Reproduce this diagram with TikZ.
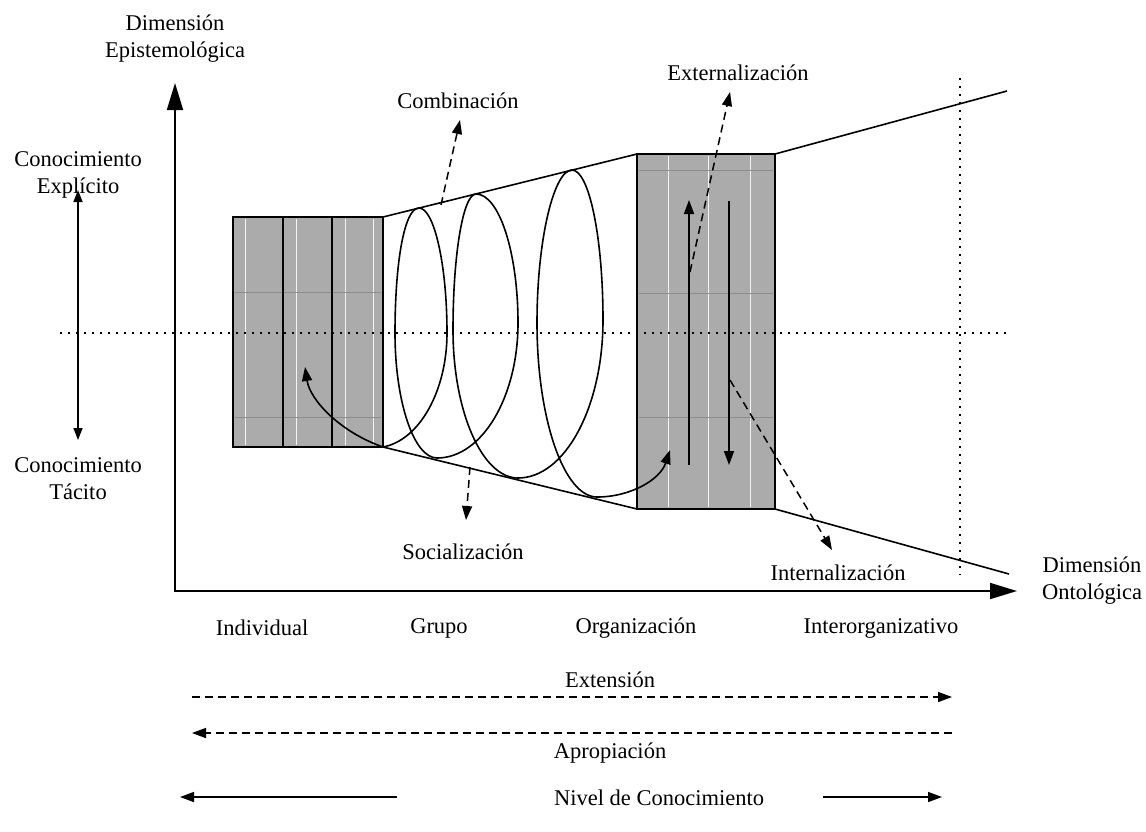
\documentclass[tikz,border=0pt]{standalone}
\usepackage{fontspec}
\setmainfont{Liberation Serif}
\usetikzlibrary{arrows.meta}
\begin{document}
\begin{tikzpicture}[x=1pt,y=-1pt,
  lbl/.style={font=\fontsize{22.5}{27}\selectfont, align=center, inner sep=0pt},
  bigtips/.style={line width=1.9pt, {Triangle[length=27pt,width=16pt]}-{Triangle[length=27pt,width=16pt]}},
  conn/.style={line width=1.6pt},
  tipS/.style={-{Triangle[length=14pt,width=10pt]}},
  dashln/.style={dash pattern=on 8pt off 5pt, line width=1.5pt},
  dotln/.style={dash pattern=on 2.2pt off 5.8pt, line width=2pt},
  hatch/.style={fill=black!33, draw, line width=1.8pt},
  seam/.style={white!85!black!30, line width=0.8pt},
  rowseam/.style={black!45, line width=0.6pt}
]
\useasboundingbox (0,0) rectangle (1146,831);

% ---- key points ----
\coordinate (O) at (175,591);
\coordinate (Ytip) at (175,83);
\coordinate (Xtip) at (1017,591);
\coordinate (LTL) at (233,217);
\coordinate (LBR) at (383,447);
\coordinate (LTR) at (383,217);
\coordinate (RTL) at (637,154);
\coordinate (RBR) at (775,509);
\coordinate (RBL) at (637,509);
\coordinate (RTR) at (775,154);

% ---- shaded blocks ----
\draw[hatch] (LTL) rectangle (LBR);
\foreach \x in {245,296,345,373} \draw[seam] (\x,219) -- (\x,445);
\foreach \y in {292,417} \draw[rowseam] (235,\y) -- (381,\y);
\draw[conn] (283,217) -- (283,447) (332,217) -- (332,447);
\draw[hatch, fill=none] (LTL) rectangle (LBR);

\draw[hatch] (RTL) rectangle (RBR);
\foreach \x in {668,708,750} \draw[seam] (\x,156) -- (\x,507);
\foreach \y in {170,293,417} \draw[rowseam] (639,\y) -- (773,\y);
\draw[hatch, fill=none] (RTL) rectangle (RBR);

% ---- funnel outline ----
\draw[conn] (LTR) -- (RTL);
\draw[conn] (LBR) -- (RBL);
\draw[conn] (RTR) -- (1007,91);
\draw[conn] (RBR) -- (1009,574);

% ---- reference lines ----
\draw[dotln] (60,333) -- (1008,333);
\draw[dotln] (960,78) -- (960,575);

% ---- axes ----
\draw[bigtips] (Ytip) -- (O) -- (Xtip);

% ---- spiral ----
\draw[conn, tipS] (LBR) .. controls (340,432) and (310,400) .. (305,367);
\draw[conn, tipS] (LBR)
  .. controls (420,440) and (447,390) .. (447,333)
  .. controls (447,264) and (434,208) .. (419,208)
  .. controls (404,208) and (395,264) .. (395,333)
  .. controls (395,402) and (414,458) .. (437,458)
  .. controls (482,458) and (518,397) .. (518,323)
  .. controls (518,252) and (499,194) .. (476,194)
  .. controls (463,194) and (453,255) .. (453,330)
  .. controls (453,411) and (482,478) .. (518,478)
  .. controls (565,478) and (603,407) .. (603,320)
  .. controls (603,237) and (589,170) .. (572,170)
  .. controls (554,170) and (537,239) .. (537,323)
  .. controls (537,419) and (564,497) .. (597,497)
  .. controls (630,497) and (660,480) .. (670,450);

% ---- vertical flows in the organisation block ----
\draw[conn, tipS] (689,465) -- (689,200);
\draw[conn, tipS] (729,201) -- (729,465);

% ---- conversion arrows ----
\draw[dashln, tipS] (441,205) -- (460,120);
\draw[dashln, tipS] (470,467) -- (466,520);
\draw[dashln, tipS] (690,272) -- (730,92);
\draw[dashln, tipS] (730,380) -- (832,550);

% ---- tacit / explicit ----
\draw[conn, {Triangle[length=12pt,width=9pt]}-{Triangle[length=12pt,width=9pt]}] (78,190) -- (78,440);

% ---- labels ----
\node[lbl] (epi) at (175,39) {Dimensión\\Epistemológica};
\node[lbl] (expl) at (78,175) {Conocimiento\\Explícito};
\node[lbl] (tac) at (78,479) {Conocimiento\\Tácito};
\node[lbl] (onto) at (1092,581) {Dimensión\\Ontológica};
\node[lbl] (comb) at (458,101) {Combinación};
\node[lbl] (soc) at (463,552) {Socialización};
\node[lbl] (ext) at (738,73) {Externalización};
\node[lbl] (int) at (838,573) {Internalización};
\node[lbl] (ind) at (262,628) {Individual};
\node[lbl] (gru) at (439,628) {Grupo};
\node[lbl] (org) at (636,628) {Organización};
\node[lbl] (inter) at (881,628) {Interorganizativo};

% ---- bottom scales ----
\node[lbl] (exten) at (610,680) {Extensión};
\coordinate (e1) at (192,697);
\coordinate (e2) at (952,697);
\draw[dashln, tipS] (e1) -- (e2);
\coordinate (a1) at (952,733);
\coordinate (a2) at (192,733);
\draw[dashln, tipS] (a1) -- (a2);
\node[lbl] (apro) at (610,753) {Apropiación};

\node[lbl] (nivel) at (659,798) {Nivel de Conocimiento};
\coordinate (n1) at (397,797);
\coordinate (n2) at (180,797);
\coordinate (n3) at (823,797);
\coordinate (n4) at (942,797);
\draw[conn, tipS] (n1) -- (n2);
\draw[conn, tipS] (n3) -- (n4);
\end{tikzpicture}
\end{document}
